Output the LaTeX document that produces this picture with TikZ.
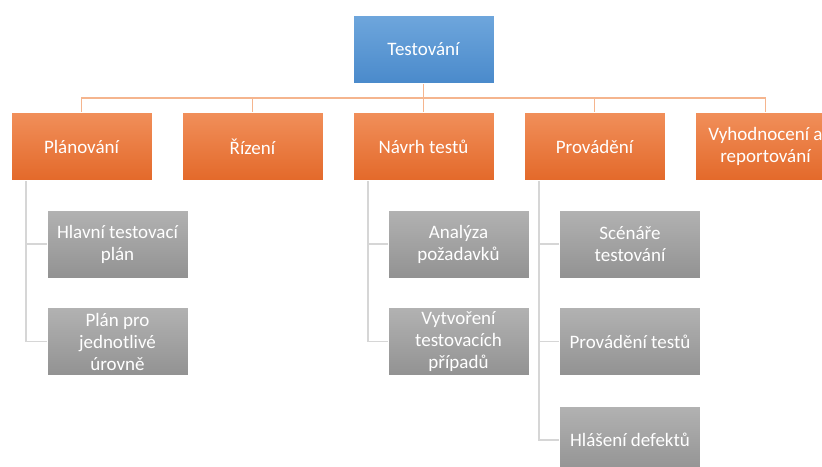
\documentclass[tikz,border=0pt]{standalone}
\usepackage{fontspec}
\setmainfont{Carlito}
\usetikzlibrary{calc,backgrounds}
\definecolor{blueTop}{HTML}{6EA6DC}
\definecolor{blueBot}{HTML}{4A8ACB}
\definecolor{orTop}{HTML}{F18F5A}
\definecolor{orBot}{HTML}{E3692A}
\definecolor{grTop}{HTML}{B2B2B2}
\definecolor{grBot}{HTML}{929292}
\definecolor{orLine}{HTML}{F5B58E}
\definecolor{grLine}{HTML}{D6D6D6}
\tikzset{
  box/.style={minimum width=141pt, minimum height=68pt, inner sep=2pt,
    align=center, text=white, font=\fontsize{19}{22}\selectfont,
    draw=white, line width=0.6pt},
  rootbox/.style={box, top color=blueTop, bottom color=blueBot},
  phasebox/.style={box, top color=orTop, bottom color=orBot},
  taskbox/.style={box, top color=grTop, bottom color=grBot},
  orlink/.style={draw=orLine, line width=1.6pt},
  grlink/.style={draw=grLine, line width=1.6pt},
}
\begin{document}
\begin{tikzpicture}[x=1pt, y=-1pt]
\useasboundingbox (0,0) rectangle (822,466);
\clip (0,0) rectangle (822,466);

% root
\node[rootbox] (root) at (423.5,49.5) {Testování};

% phases
\node[phasebox] (plan) at (81.5,146.5) {Plánování};
\node[phasebox] (rizeni) at (252.5,146.5) {Řízení};
\node[phasebox] (navrh) at (423.5,146.5) {Návrh testů};
\node[phasebox] (prov) at (594.5,146.5) {Provádění};
\node[phasebox] (vyh) at (765.5,146.5) {Vyhodnocení a\\reportování};

% tasks
\node[taskbox] (p1) at (117.5,244) {Hlavní testovací\\plán};
\node[taskbox] (p2) at (117.5,341.5) {Plán pro\\jednotlivé\\úrovně};
\node[taskbox] (n1) at (458.5,244) {Analýza\\požadavků};
\node[taskbox] (n2) at (458.5,341.5) {Vytvoření\\testovacích\\případů};
\node[taskbox] (e1) at (630,244) {Scénáře\\testování};
\node[taskbox] (e2) at (630,341.5) {Provádění testů};
\node[taskbox] (e3) at (630,440) {Hlášení defektů};

\begin{scope}[on background layer]
\fill[white] (0,0) rectangle (822,466);
% root-to-phase bus
\coordinate (bus) at (0,98);
\foreach \n in {plan,rizeni,navrh,prov,vyh}
  \draw[orlink] (root.south) -- (root.south |- bus) -| (\n.north);

% phase-to-task links
\foreach \up/\kid in {plan/p1,plan/p2,navrh/n1,navrh/n2,prov/e1,prov/e2,prov/e3}
  \draw[grlink] ([xshift=15pt]\up.south west) |- (\kid.west);
\end{scope}
\end{tikzpicture}
\end{document}
